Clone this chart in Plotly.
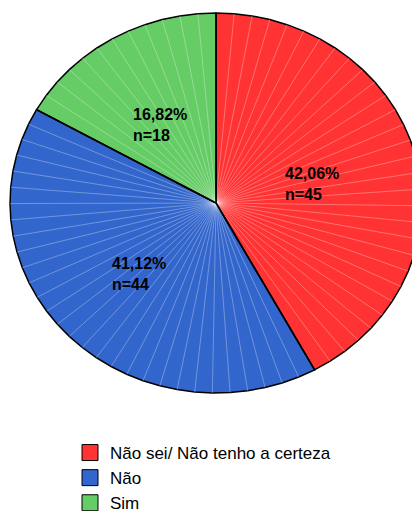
import numpy as np
import plotly.graph_objects as go

categories = ["Não sei/ Não tenho a certeza", "Não", "Sim"]
counts = [45, 44, 18]
percent_labels = ["42,06%", "41,12%", "16,82%"]
colors = ["#FF3333", "#3366CC", "#66CC66"]

W, H = 412, 530
CX, CY, RX, RY = 216, 203, 206, 190   # pie centre / radii in pixels

total = sum(counts)
fig = go.Figure()

start = 0.0
for cat, n, pct, col in zip(categories, counts, percent_labels, colors):
    span = 360.0 * n / total
    nseg = max(int(round(span / 5)), 2)
    th = np.radians(np.linspace(start, start + span, nseg + 1))
    xs = np.concatenate([[0], np.sin(th), [0]])
    ys = np.concatenate([[0], np.cos(th), [0]])
    fig.add_trace(go.Scatter(x=xs, y=ys, mode="lines", fill="toself",
                             fillcolor=col, line=dict(color="black", width=1.5),
                             hoverinfo="text", text=f"{cat}: {pct} (n={n})",
                             showlegend=False))
    lx, ly = [], []
    for t in th[1:-1]:
        lx += [0, np.sin(t), None]
        ly += [0, np.cos(t), None]
    fig.add_trace(go.Scatter(x=lx, y=ly, mode="lines",
                             line=dict(color="rgba(255,255,255,0.3)", width=1),
                             hoverinfo="skip", showlegend=False))
    start += span

start = 0.0
bx, by = [], []
for n in counts:
    t = np.radians(start)
    bx += [0, np.sin(t), None]
    by += [0, np.cos(t), None]
    start += 360.0 * n / total
fig.add_trace(go.Scatter(x=bx, y=by, mode="lines", line=dict(color="black", width=1.5),
                         hoverinfo="skip", showlegend=False))

start = 0.0
for cat, n, pct in zip(categories, counts, percent_labels):
    span = 360.0 * n / total
    mid = np.radians(start + span / 2)
    fig.add_annotation(x=0.5 * np.sin(mid), y=0.5 * np.cos(mid),
                       text=f"<b>{pct}<br>n={n}</b>", showarrow=False,
                       align="left", xanchor="center", yanchor="middle",
                       xshift=-4, yshift=-4,
                       font=dict(family="Liberation Sans, Arial", size=16, color="black"))
    start += span

for cat, col in zip(categories, colors):
    fig.add_trace(go.Scatter(x=[None], y=[None], mode="markers", name=cat,
                             marker=dict(symbol="square", size=16, color=col,
                                         line=dict(color="black", width=1))))

fig.update_layout(
    width=W, height=H, autosize=False,
    margin=dict(l=0, r=0, t=0, b=0),
    paper_bgcolor="white", plot_bgcolor="white",
    xaxis=dict(range=[-CX / RX, (W - CX) / RX], visible=False, fixedrange=True),
    yaxis=dict(range=[-(H - CY) / RY, CY / RY], visible=False, fixedrange=True),
    legend=dict(x=70 / W, y=1 - 435 / H, xanchor="left", yanchor="top",
                font=dict(family="Liberation Sans, Arial", size=17, color="black"),
                bgcolor="rgba(0,0,0,0)", tracegroupgap=0),
    showlegend=True,
)

fig.write_html("out.html", config={"responsive": False, "displayModeBar": False},
               post_script="document.body.style.margin='0';document.body.style.overflow='hidden';")
